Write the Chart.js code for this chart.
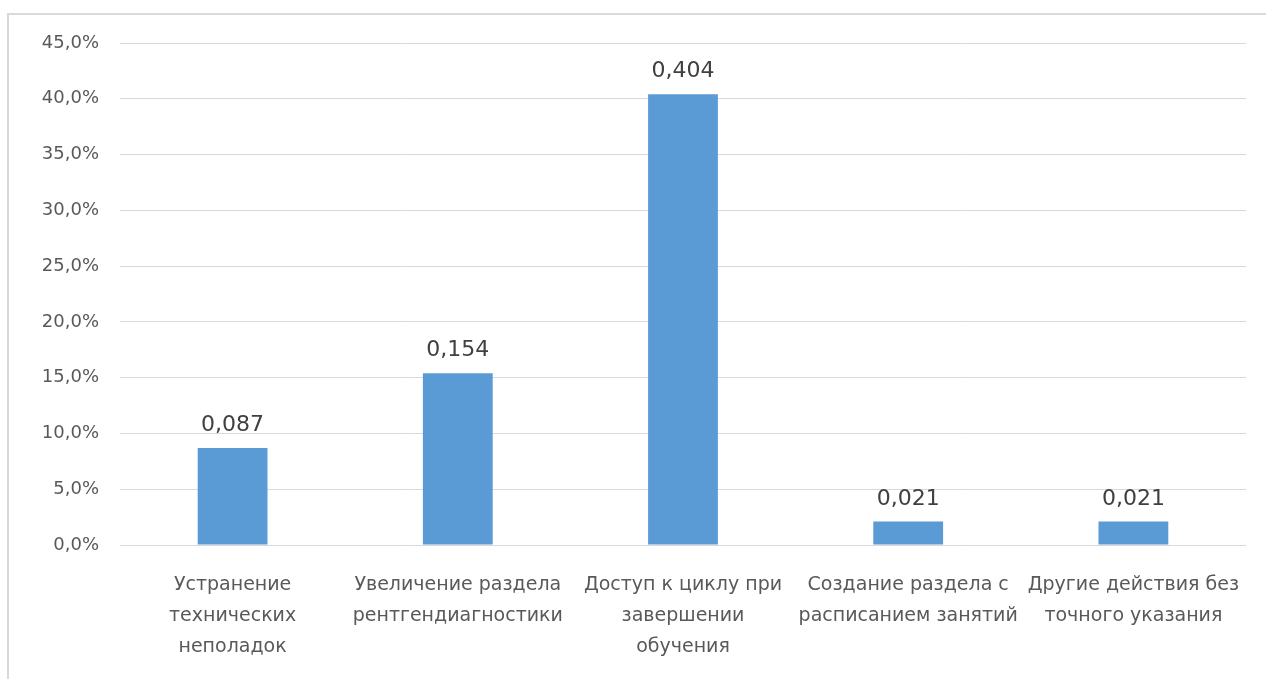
<!DOCTYPE html>
<html>
<head>
<meta charset="utf-8">
<script src="https://cdn.jsdelivr.net/npm/chart.js@4"></script>
<style>
  html, body { margin: 0; padding: 0; background: #fff; overflow: hidden; }
  #frame {
    position: absolute; left: 7px; top: 13px; width: 1400px; height: 800px;
    border-left: 2px solid #d9d9d9; border-top: 2px solid #d9d9d9;
  }
  #chart { position: absolute; left: 0; top: 0; }
</style>
</head>
<body>
<div id="frame"></div>
<canvas id="chart" width="1266" height="679"></canvas>
<script>
const categories = [
  ["Устранение", "технических", "неполадок"],
  ["Увеличение раздела", "рентгендиагностики"],
  ["Доступ к циклу при", "завершении", "обучения"],
  ["Создание раздела с", "расписанием занятий"],
  ["Другие действия без", "точного указания"]
];
const shares = [0.087, 0.154, 0.404, 0.021, 0.021];
const yMax = 0.45;
const yStep = 0.05;

const FONT = "'DejaVu Sans', 'Liberation Sans', sans-serif";

// value above each bar, written with a decimal comma
const barLabels = {
  id: "barLabels",
  afterDatasetsDraw(chart) {
    const ctx = chart.ctx;
    const meta = chart.getDatasetMeta(0);
    ctx.save();
    ctx.font = "22px " + FONT;
    ctx.fillStyle = "#404040";
    ctx.textAlign = "center";
    ctx.textBaseline = "alphabetic";
    meta.data.forEach((bar, i) => {
      const txt = shares[i].toFixed(3).replace(".", ",");
      ctx.fillText(txt, bar.x, bar.y - 17);
    });
    ctx.restore();
  }
};

const ctx = document.getElementById("chart").getContext("2d");
new Chart(ctx, {
  type: "bar",
  data: {
    labels: categories,
    datasets: [{
      data: shares,
      backgroundColor: "#5b9bd5",
      barPercentage: 0.31,
      categoryPercentage: 1
    }]
  },
  options: {
    responsive: false,
    animation: false,
    layout: { padding: { top: 43, right: 19, left: 0, bottom: 0 } },
    plugins: { legend: { display: false }, tooltip: { enabled: false } },
    scales: {
      x: {
        grid: { display: false, drawTicks: false },
        border: { display: false },
        ticks: {
          color: "#595959",
          font: { family: FONT, size: 19, lineHeight: 1.63 },
          padding: 25,
          maxRotation: 0,
          autoSkip: false
        },
        afterFit(scale) { scale.height = 134; }
      },
      y: {
        min: 0,
        max: yMax,
        grid: { color: "#d9d9d9", drawTicks: false },
        border: { display: false },
        ticks: {
          stepSize: yStep,
          color: "#595959",
          font: { family: FONT, size: 18 },
          padding: 21,
          callback: v => (v * 100).toFixed(1).replace(".", ",") + "%"
        },
        afterFit(scale) { scale.width = 120; }
      }
    }
  },
  plugins: [barLabels]
});
</script>
</body>
</html>
